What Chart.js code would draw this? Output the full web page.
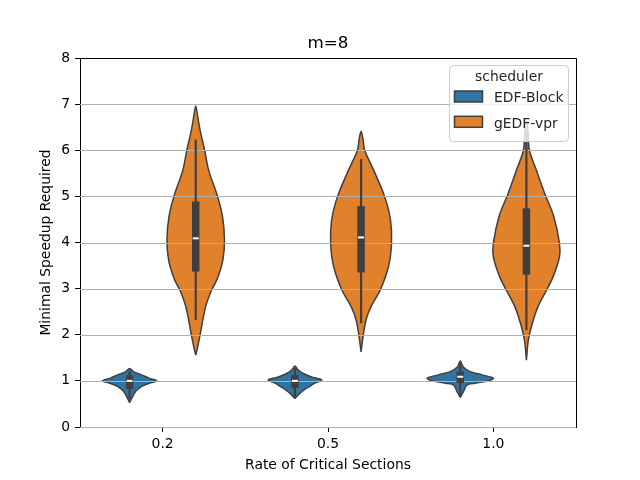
<!DOCTYPE html>
<html>
<head>
<meta charset="utf-8">
<script src="https://cdn.jsdelivr.net/npm/chart.js@4.4.0/dist/chart.umd.min.js"></script>
<style>
  html, body { margin: 0; padding: 0; background: #fff; }
  #wrap { width: 640px; height: 480px; }
</style>
</head>
<body>
<div id="wrap"><canvas id="chart" width="640" height="480"></canvas></div>
<script>
const categories = ['0.2', '0.5', '1.0'];
const schedulers = ['EDF-Block', 'gEDF-vpr'];
const yTicks = [0, 1, 2, 3, 4, 5, 6, 7, 8];

// violin outlines: value levels (top to bottom) and relative half-width at each level
const edfLevels = [
  [1.27, 1.20, 1.13, 1.06, 1.00, 0.95, 0.90, 0.85, 0.77, 0.66, 0.53],
  [1.32, 1.24, 1.16, 1.08, 1.02, 0.95, 0.87, 0.80, 0.73, 0.62],
  [1.43, 1.30, 1.20, 1.13, 1.06, 1.00, 0.95, 0.91, 0.77, 0.64],
];
const edfDensity = [
  [0, 0.12, 0.36, 0.58, 0.82, 0.60, 0.42, 0.30, 0.18, 0.09, 0],
  [0, 0.09, 0.25, 0.52, 0.81, 0.60, 0.42, 0.27, 0.15, 0],
  [0, 0.09, 0.30, 0.66, 1.00, 0.85, 0.45, 0.20, 0.10, 0],
];
const vprLevels = [
  [6.96, 6.73, 6.37, 6.00, 5.57, 5.00, 4.56, 4.06, 3.62, 3.19, 2.97, 2.61, 2.03, 1.74, 1.56],
  [6.41, 6.23, 6.00, 5.57, 5.00, 4.49, 3.98, 3.48, 2.97, 2.61, 2.32, 1.96, 1.63],
  [6.65, 6.37, 6.00, 5.57, 5.07, 4.56, 3.98, 3.69, 3.26, 2.97, 2.61, 2.25, 1.89, 1.45],
];
const vprDensity = [
  [0, 0.06, 0.15, 0.27, 0.39, 0.66, 0.81, 0.87, 0.82, 0.64, 0.48, 0.30, 0.14, 0.06, 0],
  [0, 0.06, 0.11, 0.38, 0.71, 0.89, 0.92, 0.83, 0.58, 0.30, 0.15, 0.06, 0],
  [0, 0.05, 0.09, 0.30, 0.55, 0.83, 1.00, 1.00, 0.81, 0.61, 0.35, 0.18, 0.06, 0],
];
// [whisker low, q1, median, q3, whisker high]
const edfBox = [[0.60, 0.82, 1.00, 1.12, 1.22], [0.65, 0.85, 1.00, 1.13, 1.28], [0.68, 0.95, 1.09, 1.20, 1.38]];
const vprBox = [[2.32, 3.37, 4.09, 4.89, 6.23], [2.25, 3.35, 4.11, 4.79, 5.81], [2.10, 3.30, 3.93, 4.74, 6.45]];

const fillColors = ['#3274a1', '#e1812c'];
const edge = '#3f3f3f';
const offsets = [-0.2, 0.2];
const halfMax = 0.2;
const FONT = "'DejaVu Sans', sans-serif";

function outline(c, levels, dens) {
  // right side bottom -> top, then left side back down
  const right = levels.map((y, i) => ({ x: c + dens[i] * halfMax, y })).reverse();
  const left = levels.map((y, i) => ({ x: c - dens[i] * halfMax, y })).slice(1);
  return right.concat(left);
}

const datasets = [];
const groups = [
  { levels: edfLevels, dens: edfDensity, box: edfBox },
  { levels: vprLevels, dens: vprDensity, box: vprBox },
];
groups.forEach((g, s) => {
  categories.forEach((_, k) => {
    const c = k + offsets[s];
    const [lo, q1, med, q3, hi] = g.box[k];
    datasets.push({
      kind: 'violin', label: schedulers[s],
      data: outline(c, g.levels[k], g.dens[k]),
      showLine: true, fill: 'shape', tension: 0.35,
      backgroundColor: fillColors[s], borderColor: edge, borderWidth: 1.5,
      borderJoinStyle: 'round', pointRadius: 0, order: 3,
    });
    datasets.push({
      kind: 'whisker', data: [{ x: c, y: lo }, { x: c, y: hi }],
      showLine: true, borderColor: edge, borderWidth: 2.2, pointRadius: 0, order: 2,
    });
    datasets.push({
      kind: 'box', data: [{ x: c, y: q1 }, { x: c, y: q3 }],
      showLine: true, borderColor: edge, borderWidth: 7.5, borderCapStyle: 'butt', pointRadius: 0, order: 2,
    });
    datasets.push({
      kind: 'median', data: [{ x: c - 0.018, y: med }, { x: c + 0.018, y: med }],
      showLine: true, borderColor: '#ffffff', borderWidth: 2, borderCapStyle: 'butt', pointRadius: 0, order: 1,
    });
  });
});

const decor = {
  id: 'decor',
  beforeDatasetsDraw(chart) { chart.$gridDone = false; },
  beforeDatasetDraw(chart, args) {
    if (chart.$gridDone || chart.data.datasets[args.index].kind === 'violin') return;
    const { ctx, chartArea: a, scales: { y } } = chart;
    ctx.save();
    ctx.strokeStyle = '#b0b0b0';
    ctx.lineWidth = 1.1;
    yTicks.forEach((v) => {
      const py = Math.round(y.getPixelForValue(v)) + 0.5;
      ctx.beginPath();
      ctx.moveTo(a.left, py);
      ctx.lineTo(a.right, py);
      ctx.stroke();
    });
    ctx.restore();
    chart.$gridDone = true;
  },
  afterDraw(chart) {
    const { ctx, chartArea: a } = chart;
    ctx.save();
    // top and right spines
    ctx.strokeStyle = '#000';
    ctx.lineWidth = 1;
    ctx.beginPath();
    ctx.moveTo(a.left, a.top + 0.5);
    ctx.lineTo(a.right + 0.5, a.top + 0.5);
    ctx.lineTo(a.right + 0.5, a.bottom);
    ctx.stroke();

    // title
    ctx.fillStyle = '#000';
    ctx.font = `16.7px ${FONT}`;
    ctx.textAlign = 'center';
    ctx.textBaseline = 'alphabetic';
    ctx.fillText('m=8', (a.left + a.right) / 2, 48);

    // legend
    const lx = 449.5, ly = 65.5, lw = 119, lh = 76;
    ctx.beginPath();
    ctx.roundRect(lx, ly, lw, lh, 4);
    ctx.fillStyle = 'rgba(255,255,255,0.8)';
    ctx.fill();
    ctx.strokeStyle = '#cccccc';
    ctx.lineWidth = 1;
    ctx.stroke();
    ctx.fillStyle = '#262626';
    ctx.font = `13.9px ${FONT}`;
    ctx.textAlign = 'center';
    ctx.fillText('scheduler', lx + lw / 2, 81);
    schedulers.forEach((name, i) => {
      const cy = 96.5 + i * 25.3;
      ctx.fillStyle = fillColors[i];
      ctx.fillRect(454.5, cy - 5.5, 28, 11);
      ctx.strokeStyle = edge;
      ctx.lineWidth = 1.5;
      ctx.strokeRect(454.5, cy - 5.5, 28, 11);
      ctx.fillStyle = '#262626';
      ctx.textAlign = 'left';
      ctx.fillText(name, 494, cy + 5.8);
    });
    ctx.restore();
  },
};

new Chart(document.getElementById('chart'), {
  type: 'scatter',
  data: { datasets },
  options: {
    responsive: false,
    devicePixelRatio: 1,
    animation: false,
    layout: { padding: { top: 58, right: 64, left: 0, bottom: 0 } },
    plugins: { legend: { display: false }, tooltip: { enabled: false } },
    scales: {
      x: {
        type: 'linear', min: -0.5, max: 2.5,
        afterBuildTicks: (s) => { s.ticks = categories.map((_, i) => ({ value: i })); },
        afterFit: (s) => { s.height = 53; },
        ticks: { callback: (v) => categories[v], color: '#000', font: { family: FONT, size: 13.9 }, padding: 4, maxRotation: 0, autoSkip: false },
        grid: { drawOnChartArea: false, tickLength: 5, tickColor: '#000' },
        border: { color: '#000', width: 1 },
        title: { display: true, text: 'Rate of Critical Sections', color: '#000', font: { family: FONT, size: 13.9 }, padding: { top: 0, bottom: 6 } },
      },
      y: {
        min: 0, max: 8,
        afterBuildTicks: (s) => { s.ticks = yTicks.map((v) => ({ value: v })); },
        afterFit: (s) => { s.width = 80; },
        ticks: { color: '#000', font: { family: FONT, size: 13.9 }, padding: 5 },
        grid: { drawOnChartArea: false, tickLength: 5, tickColor: '#000' },
        border: { color: '#000', width: 1 },
        title: { display: true, text: 'Minimal Speedup Required', color: '#000', font: { family: FONT, size: 13.9 }, padding: { top: 38, bottom: 0 } },
      },
    },
  },
  plugins: [decor],
});
</script>
</body>
</html>
